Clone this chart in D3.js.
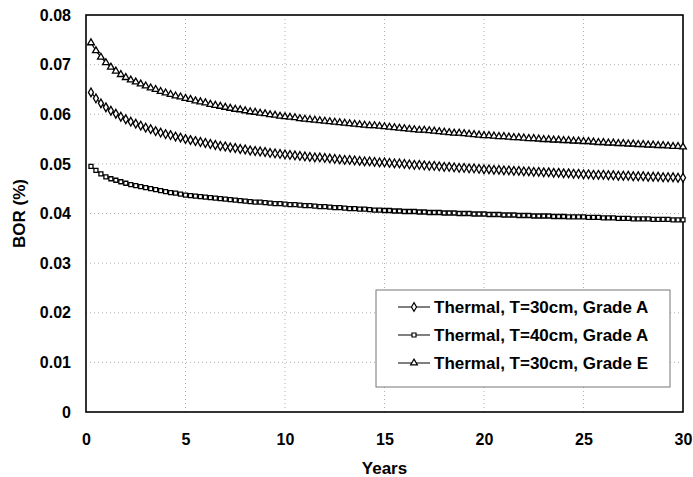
<!DOCTYPE html>
<html><head><meta charset="utf-8">
<script src="https://cdn.jsdelivr.net/npm/d3@7"></script>
<style>
body{margin:0;background:#fff;}
text{font-family:"Liberation Sans",Arial,sans-serif;font-weight:bold;fill:#000;}
</style></head>
<body><svg id="c" width="693" height="477"></svg>
<script>
const years = d3.range(0.25, 30.001, 0.25);
const seriesNames = ["Thermal, T=30cm, Grade A","Thermal, T=40cm, Grade A","Thermal, T=30cm, Grade E"];
const gradeA30 = [0.0644,0.0632,0.0622,0.0614,0.0607,0.0601,0.0595,0.0590,0.0585,0.0581,0.0577,0.0573,0.0570,0.0566,0.0563,0.0560,0.0558,0.0555,0.0553,0.0550,
0.0548,0.0546,0.0544,0.0542,0.0540,0.0538,0.0536,0.0535,0.0533,0.0532,0.0530,0.0529,0.0527,0.0526,0.0525,0.0524,0.0522,0.0521,0.0520,0.0519,
0.0518,0.0517,0.0516,0.0515,0.0514,0.0513,0.0513,0.0512,0.0511,0.0510,0.0509,0.0508,0.0508,0.0507,0.0506,0.0505,0.0505,0.0504,0.0503,0.0503,
0.0502,0.0501,0.0501,0.0500,0.0499,0.0498,0.0498,0.0497,0.0496,0.0496,0.0495,0.0494,0.0494,0.0493,0.0492,0.0492,0.0491,0.0491,0.0490,0.0489,
0.0489,0.0488,0.0488,0.0487,0.0487,0.0486,0.0486,0.0485,0.0485,0.0484,0.0484,0.0483,0.0483,0.0482,0.0482,0.0481,0.0481,0.0480,0.0480,0.0479,
0.0479,0.0478,0.0478,0.0478,0.0477,0.0477,0.0476,0.0476,0.0476,0.0475,0.0475,0.0475,0.0474,0.0474,0.0474,0.0473,0.0473,0.0473,0.0472,0.0472];
const gradeA40 = [0.0495,0.0487,0.0480,0.0474,0.0470,0.0467,0.0464,0.0461,0.0458,0.0456,0.0454,0.0452,0.0450,0.0448,0.0446,0.0444,0.0442,0.0441,0.0439,0.0437,
0.0436,0.0435,0.0434,0.0433,0.0432,0.0431,0.0430,0.0429,0.0428,0.0427,0.0426,0.0425,0.0424,0.0423,0.0423,0.0422,0.0421,0.0420,0.0420,0.0419,
0.0418,0.0418,0.0417,0.0416,0.0416,0.0415,0.0414,0.0414,0.0413,0.0412,0.0412,0.0411,0.0410,0.0410,0.0409,0.0409,0.0408,0.0407,0.0407,0.0406,
0.0406,0.0405,0.0405,0.0404,0.0404,0.0404,0.0403,0.0403,0.0402,0.0402,0.0402,0.0401,0.0401,0.0401,0.0400,0.0400,0.0400,0.0399,0.0399,0.0399,
0.0398,0.0398,0.0398,0.0397,0.0397,0.0397,0.0396,0.0396,0.0396,0.0395,0.0395,0.0395,0.0395,0.0394,0.0394,0.0394,0.0393,0.0393,0.0393,0.0393,
0.0392,0.0392,0.0392,0.0391,0.0391,0.0391,0.0390,0.0390,0.0390,0.0389,0.0389,0.0389,0.0389,0.0388,0.0388,0.0388,0.0388,0.0387,0.0387,0.0387];
const gradeE30 = [0.0744,0.0728,0.0715,0.0704,0.0695,0.0687,0.0680,0.0674,0.0669,0.0665,0.0661,0.0657,0.0653,0.0650,0.0646,0.0643,0.0640,0.0637,0.0635,0.0632,
0.0630,0.0627,0.0625,0.0623,0.0620,0.0618,0.0616,0.0614,0.0612,0.0610,0.0609,0.0607,0.0605,0.0604,0.0602,0.0601,0.0599,0.0598,0.0596,0.0595,
0.0594,0.0593,0.0591,0.0590,0.0589,0.0588,0.0587,0.0586,0.0585,0.0584,0.0583,0.0582,0.0581,0.0580,0.0579,0.0578,0.0577,0.0577,0.0576,0.0575,
0.0574,0.0573,0.0572,0.0571,0.0570,0.0569,0.0568,0.0568,0.0567,0.0566,0.0565,0.0564,0.0563,0.0562,0.0562,0.0561,0.0560,0.0559,0.0558,0.0557,
0.0557,0.0556,0.0555,0.0555,0.0554,0.0553,0.0553,0.0552,0.0551,0.0551,0.0550,0.0549,0.0549,0.0548,0.0548,0.0547,0.0547,0.0546,0.0546,0.0545,
0.0545,0.0544,0.0543,0.0543,0.0542,0.0542,0.0541,0.0541,0.0540,0.0540,0.0539,0.0539,0.0538,0.0538,0.0537,0.0537,0.0536,0.0535,0.0535,0.0534];
const xTicks = [0,5,10,15,20,25,30];
const yTicks = [0,0.01,0.02,0.03,0.04,0.05,0.06,0.07,0.08];
const yTickLabels = ["0","0.01","0.02","0.03","0.04","0.05","0.06","0.07","0.08"];

const svg = d3.select("#c");
const m = {l:86, r:10, t:15, b:65};
const W = 693, H = 477;
const x = d3.scaleLinear().domain([0,30]).range([m.l, W-m.r]);
const y = d3.scaleLinear().domain([0,0.08]).range([H-m.b, m.t]);

// gridlines
svg.append("g").selectAll("line").data(yTicks.slice(1,-1)).join("line")
  .attr("x1",x(0)).attr("x2",x(30)).attr("y1",d=>y(d)).attr("y2",d=>y(d))
  .attr("stroke","#b0b0b0").attr("stroke-width",1).attr("stroke-dasharray","1,3");
svg.append("g").selectAll("line").data(xTicks.slice(1,-1)).join("line")
  .attr("y1",y(0)).attr("y2",y(0.08)).attr("x1",d=>x(d)).attr("x2",d=>x(d))
  .attr("stroke","#b0b0b0").attr("stroke-width",1).attr("stroke-dasharray","1,3");

// axes
const xAxis = svg.append("g").attr("transform",`translate(0,${y(0)})`)
  .call(d3.axisBottom(x).tickValues(xTicks).tickSize(0).tickPadding(22).tickFormat(d3.format("d")));
const yAxis = svg.append("g").attr("transform",`translate(${x(0)},0)`)
  .call(d3.axisLeft(y).tickValues(yTicks).tickSize(0).tickPadding(15).tickFormat((d,i)=>yTickLabels[i]));
[xAxis,yAxis].forEach(a=>{a.select(".domain").remove();a.selectAll("text").attr("font-size",16).attr("font-family","Liberation Sans, Arial, sans-serif").attr("font-weight","bold").attr("fill","#000");});

// frame
svg.append("rect").attr("x",x(0)).attr("y",y(0.08)).attr("width",x(30)-x(0)).attr("height",y(0)-y(0.08))
  .attr("fill","none").attr("stroke","#000").attr("stroke-width",1.6);

const series = [gradeA30, gradeA40, gradeE30];
const symbols = [d3.symbolDiamond, d3.symbolSquare, d3.symbolTriangle];
const symSizes = [22, 16, 20];
const line = d3.line().x((d,i)=>x(years[i])).y(d=>y(d));
series.forEach((s,k)=>{
  svg.append("path").datum(s).attr("d",line).attr("fill","none").attr("stroke","#000").attr("stroke-width",1.2);
  svg.append("g").selectAll("path").data(s).join("path")
    .attr("transform",(d,i)=>`translate(${x(years[i])},${y(d)})`)
    .attr("d",d3.symbol().type(symbols[k]).size(symSizes[k]))
    .attr("fill","#fff").attr("stroke","#000").attr("stroke-width",1.3);
});

// legend
const lg = svg.append("g");
lg.append("rect").attr("x",376).attr("y",290).attr("width",294).attr("height",97)
  .attr("fill","#fff").attr("stroke","#777").attr("stroke-width",1);
const rowY = [307,335,363];
seriesNames.forEach((n,k)=>{
  lg.append("line").attr("x1",398).attr("x2",430).attr("y1",rowY[k]).attr("y2",rowY[k]).attr("stroke","#000").attr("stroke-width",1);
  lg.append("path").attr("transform",`translate(414,${rowY[k]})`).attr("d",d3.symbol().type(symbols[k]).size(symSizes[k]))
    .attr("fill","#fff").attr("stroke","#000").attr("stroke-width",1.2);
  lg.append("text").attr("x",434).attr("y",rowY[k]).attr("dy","0.36em").attr("font-size",17).text(n);
});

// axis titles
svg.append("text").attr("x",x(15)).attr("y",474).attr("text-anchor","middle").attr("font-size",17).text("Years");
svg.append("text").attr("transform",`translate(25,${(y(0)+y(0.08))/2}) rotate(-90)`).attr("text-anchor","middle").attr("font-size",17).text("BOR (%)");
</script></body></html>
